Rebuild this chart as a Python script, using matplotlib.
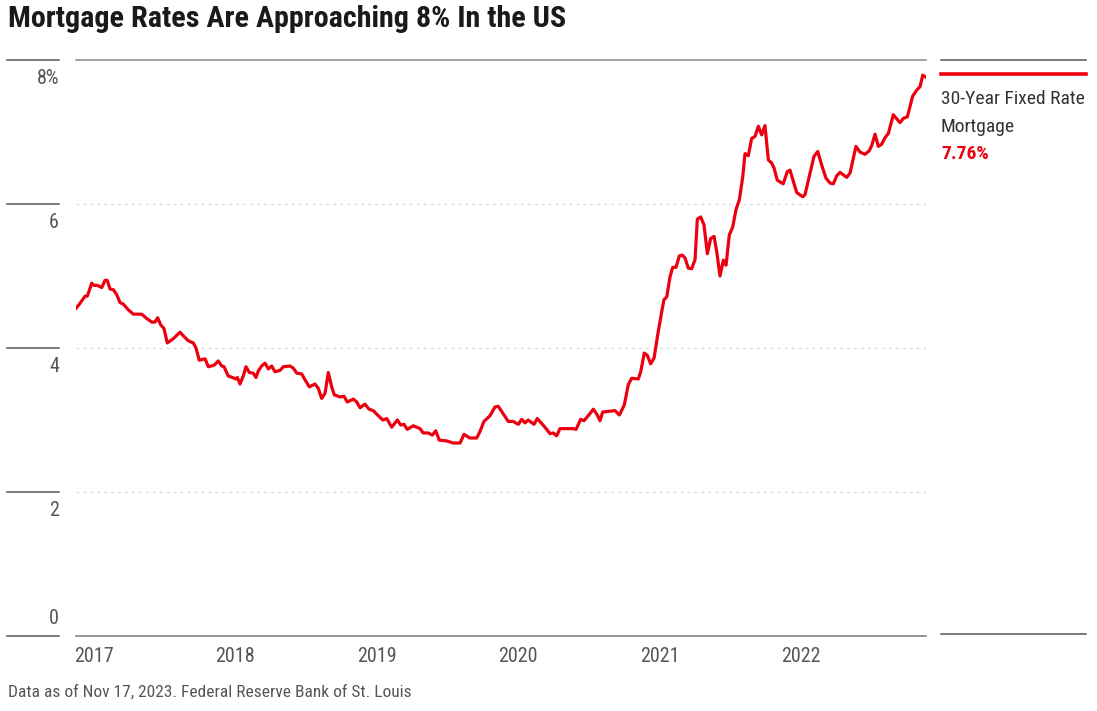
import matplotlib
matplotlib.use("Agg")
import matplotlib.pyplot as plt
import matplotlib.transforms as mtransforms
from matplotlib import font_manager

# ---------------- data ----------------
title = "Mortgage Rates Are Approaching 8% In the US"
footer = "Data as of Nov 17, 2023. Federal Reserve Bank of St. Louis"
series_name = ["30-Year Fixed Rate", "Mortgage"]
last_label = "7.76%"

x_ticks = [2017, 2018, 2019, 2020, 2021, 2022]
x_tick_labels = ["2017", "2018", "2019", "2020", "2021", "2022"]
y_ticks = [0, 2, 4, 6, 8]
y_tick_labels = ["0", "2", "4", "6", "8%"]

dates = [
    2016.876, 2016.904, 2016.940, 2016.956, 2016.987, 2017.003, 2017.027, 2017.058, 2017.081, 2017.097,
    2017.116, 2017.140, 2017.164, 2017.187, 2017.210, 2017.246, 2017.281, 2017.340, 2017.376, 2017.411,
    2017.434, 2017.453, 2017.475, 2017.498, 2017.521, 2017.564, 2017.611, 2017.634, 2017.670, 2017.705,
    2017.724, 2017.747, 2017.788, 2017.811, 2017.851, 2017.882, 2017.906, 2017.922, 2017.952, 2017.983,
    2018.005, 2018.016, 2018.035, 2018.058, 2018.077, 2018.101, 2018.129, 2018.148, 2018.164, 2018.188,
    2018.212, 2018.235, 2018.259, 2018.282, 2018.318, 2018.341, 2018.388, 2018.412, 2018.436, 2018.471,
    2018.494, 2018.525, 2018.565, 2018.588, 2018.612, 2018.636, 2018.659, 2018.683, 2018.701, 2018.742,
    2018.770, 2018.793, 2018.836, 2018.860, 2018.883, 2018.918, 2018.947, 2018.977, 2019.012, 2019.044,
    2019.072, 2019.107, 2019.147, 2019.171, 2019.194, 2019.217, 2019.260, 2019.307, 2019.330, 2019.366,
    2019.394, 2019.418, 2019.443, 2019.496, 2019.542, 2019.590, 2019.618, 2019.660, 2019.708, 2019.731,
    2019.759, 2019.802, 2019.837, 2019.860, 2019.884, 2019.931, 2019.966, 2020.002, 2020.026, 2020.049,
    2020.072, 2020.113, 2020.136, 2020.167, 2020.190, 2020.226, 2020.249, 2020.273, 2020.296, 2020.344,
    2020.390, 2020.410, 2020.443, 2020.466, 2020.496, 2020.532, 2020.560, 2020.579, 2020.598, 2020.638,
    2020.685, 2020.716, 2020.751, 2020.779, 2020.803, 2020.850, 2020.867, 2020.892, 2020.913, 2020.937,
    2020.961, 2020.991, 2021.015, 2021.031, 2021.051, 2021.074, 2021.093, 2021.116, 2021.140, 2021.161,
    2021.180, 2021.203, 2021.227, 2021.251, 2021.267, 2021.291, 2021.314, 2021.338, 2021.361, 2021.385,
    2021.404, 2021.427, 2021.451, 2021.470, 2021.493, 2021.517, 2021.540, 2021.564, 2021.588, 2021.604,
    2021.627, 2021.651, 2021.675, 2021.698, 2021.722, 2021.745, 2021.769, 2021.792, 2021.809, 2021.832,
    2021.874, 2021.903, 2021.922, 2021.969, 2022.012, 2022.028, 2022.068, 2022.091, 2022.118, 2022.146,
    2022.176, 2022.205, 2022.228, 2022.252, 2022.275, 2022.323, 2022.346, 2022.388, 2022.417, 2022.452,
    2022.482, 2022.499, 2022.523, 2022.546, 2022.570, 2022.593, 2022.617, 2022.652, 2022.699, 2022.723,
    2022.751, 2022.789, 2022.817, 2022.841, 2022.860, 2022.883,
]
rates = [
    4.55, 4.62, 4.72, 4.72, 4.90, 4.87, 4.87, 4.84, 4.94, 4.94,
    4.82, 4.81, 4.74, 4.63, 4.61, 4.53, 4.47, 4.47, 4.41, 4.36,
    4.36, 4.42, 4.32, 4.27, 4.07, 4.13, 4.22, 4.17, 4.10, 4.07,
    4.00, 3.83, 3.85, 3.74, 3.76, 3.82, 3.75, 3.74, 3.61, 3.59,
    3.57, 3.59, 3.50, 3.61, 3.74, 3.66, 3.65, 3.59, 3.68, 3.75,
    3.79, 3.71, 3.75, 3.67, 3.69, 3.74, 3.75, 3.72, 3.65, 3.64,
    3.56, 3.46, 3.50, 3.44, 3.30, 3.37, 3.66, 3.46, 3.35, 3.32,
    3.33, 3.25, 3.29, 3.25, 3.17, 3.22, 3.15, 3.13, 3.06, 3.00,
    3.02, 2.90, 3.00, 2.93, 2.94, 2.87, 2.92, 2.88, 2.82, 2.82,
    2.79, 2.85, 2.72, 2.71, 2.68, 2.68, 2.80, 2.75, 2.75, 2.84,
    2.98, 3.06, 3.18, 3.19, 3.12, 2.98, 2.98, 2.94, 3.01, 2.96,
    3.00, 2.94, 3.02, 2.95, 2.90, 2.81, 2.82, 2.78, 2.88, 2.88,
    2.88, 2.87, 3.01, 2.99, 3.06, 3.15, 3.07, 2.99, 3.11, 3.12,
    3.13, 3.07, 3.21, 3.49, 3.58, 3.57, 3.67, 3.93, 3.90, 3.78,
    3.86, 4.23, 4.50, 4.67, 4.71, 4.99, 5.12, 5.12, 5.28, 5.29,
    5.25, 5.11, 5.10, 5.23, 5.79, 5.82, 5.71, 5.31, 5.52, 5.55,
    5.34, 5.00, 5.22, 5.15, 5.57, 5.68, 5.92, 6.06, 6.38, 6.70,
    6.67, 6.91, 6.94, 7.08, 6.96, 7.09, 6.61, 6.57, 6.50, 6.33,
    6.28, 6.45, 6.47, 6.16, 6.10, 6.13, 6.47, 6.66, 6.73, 6.54,
    6.36, 6.29, 6.28, 6.39, 6.44, 6.37, 6.43, 6.80, 6.72, 6.69,
    6.74, 6.81, 6.97, 6.80, 6.83, 6.92, 6.98, 7.24, 7.13, 7.19,
    7.21, 7.50, 7.58, 7.63, 7.79, 7.76,
]

# ---------------- style ----------------
def pick(cands):
    names = {f.name for f in font_manager.fontManager.ttflist}
    return [c for c in cands if c in names] + ["DejaVu Sans"]

FONT = pick(["Liberation Sans Narrow", "Roboto Condensed", "Roboto", "Liberation Sans"])
plt.rcParams["font.family"] = FONT

RED = "#ec0010"
TXT = "#333333"
LBL = "#555555"

W, H = 1097, 711
fig = plt.figure(figsize=(W / 100, H / 100), dpi=100)
fig.patch.set_facecolor("white")

left, right, top, bottom = 76 / W, 926 / W, 1 - 60 / H, 1 - 636 / H
ax = fig.add_axes([left, bottom, right - left, top - bottom])
for s in ax.spines.values():
    s.set_visible(False)

ax.plot(dates, rates, color=RED, lw=2.3, solid_joinstyle="round", zorder=3)
ax.set_xlim(dates[0], dates[-1])
ax.set_ylim(0, 8)

# grid lines
for v in y_ticks:
    if v == 0:
        ax.axhline(v, color="#777777", lw=1.1, zorder=2, clip_on=False)
    elif v == 8:
        ax.axhline(v, color="#8a8a8a", lw=1.1, zorder=2, clip_on=False)
    else:
        ax.axhline(v, color="#dadada", lw=1.0, ls=(0, (2, 3)), zorder=1)

# left short lines and labels beside them
blend = mtransforms.blended_transform_factory(fig.transFigure, ax.transData)
below_tr = mtransforms.offset_copy(blend, fig=fig, x=0, y=-19, units="dots")
above_tr = mtransforms.offset_copy(blend, fig=fig, x=0, y=18, units="dots")
for v, lab in zip(y_ticks, y_tick_labels):
    ax.plot([7 / W, 59 / W], [v, v], transform=blend, color="#555555", lw=1.1, clip_on=False)
    ax.text(59 / W, v, lab, transform=above_tr if v == 0 else below_tr,
            ha="right", va="center", fontsize=14.5, color=LBL)

ax.set_yticks([])
ax.set_xticks(x_ticks)
ax.set_xticklabels(x_tick_labels, fontsize=14.5, color=LBL)
ax.tick_params(axis="x", length=0, pad=8)

# title and footer
fig.text(8 / W, 1 - 19 / H, title, fontsize=21.7, fontweight="bold", color="#1a1a1a",
         ha="left", va="center")
fig.text(8 / W, 1 - 692 / H, footer, fontsize=12.5, color=LBL, ha="left", va="center")

# right legend panel
px0, px1 = 941 / W, 1086 / W
fig.add_artist(plt.Line2D([px0, px1], [1 - 60 / H, 1 - 60 / H], transform=fig.transFigure,
                          color="#555555", lw=1.1))
fig.add_artist(plt.Line2D([px0, px1], [1 - 74 / H, 1 - 74 / H], transform=fig.transFigure,
                          color=RED, lw=2.6))
fig.add_artist(plt.Line2D([px0, px1], [1 - 634 / H, 1 - 634 / H], transform=fig.transFigure,
                          color="#555555", lw=1.1))
fig.text(px0, 1 - 99 / H, series_name[0], fontsize=14, color=TXT, ha="left", va="center")
fig.text(px0, 1 - 127 / H, series_name[1], fontsize=14, color=TXT, ha="left", va="center")
fig.text(px0, 1 - 154 / H, last_label, fontsize=14, color=RED, fontweight="bold",
         ha="left", va="center")

fig.savefig("out.png", dpi=100, facecolor="white")
